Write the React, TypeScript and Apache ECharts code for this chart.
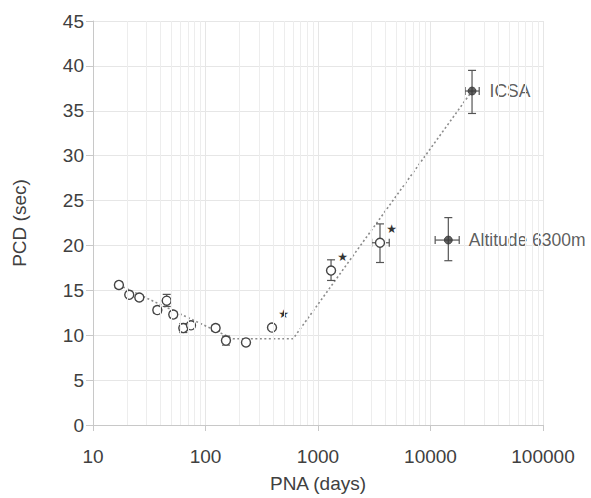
import React, { useEffect, useRef } from "react";
import * as echarts from "echarts";

// Open markers (PNA days, PCD sec) with vertical/horizontal error limits
const openX = [17, 21, 25.8, 37.3, 45.2, 51.7, 63.5, 74.3, 123, 152, 229, 390, 1306, 3557];
const openY = [15.6, 14.5, 14.2, 12.8, 13.85, 12.3, 10.8, 11.1, 10.8, 9.4, 9.2, 10.85, 17.2, 20.3];
const openYLow = [15.25, 14.2, 13.9, 12.45, 13.2, 11.95, 10.3, 10.8, 10.45, 8.9, 8.85, 10.85, 16.1, 18.1];
const openYHigh = [15.95, 14.8, 14.5, 13.15, 14.55, 12.65, 11.3, 11.4, 11.15, 9.9, 9.55, 10.85, 18.4, 22.4];
const openXLow = [17, 21, 25.8, 37.3, 45.2, 51.7, 63.5, 74.3, 123, 152, 229, 390, 1240, 3000];
const openXHigh = [17, 21, 25.8, 37.3, 45.2, 51.7, 63.5, 74.3, 123, 152, 229, 390, 1370, 4300];
const starred = [390, 1306, 3557];

// Filled markers
const filledNames = ["ICSA", "Altitude 6300m"];
const filledX = [23400, 14400];
const filledY = [37.2, 20.6];
const filledYLow = [34.7, 18.3];
const filledYHigh = [39.5, 23.1];
const filledXLow = [20300, 11000];
const filledXHigh = [27100, 18000];

// Dotted trend line
const trendX = [17, 175, 600, 23400];
const trendY = [15.6, 9.6, 9.6, 37.2];

const decades = [10, 100, 1000, 10000, 100000];

const FONT = "'Liberation Sans', Arial, sans-serif";
const TXT = "#404040";

export default function App() {
  const ref = useRef<HTMLDivElement>(null);
  useEffect(() => {
    if (!ref.current) return;
    const chart = echarts.init(ref.current, undefined, { renderer: "svg" });

    const minorTicks: number[] = [];
    for (let d = 0; d < decades.length - 1; d++) {
      for (let k = 2; k <= 9; k++) minorTicks.push(decades[d] * k);
    }

    const errData = [
      ...openX.map((x, i) => [x, openY[i], openYLow[i], openYHigh[i], openXLow[i], openXHigh[i]]),
      ...filledX.map((x, i) => [x, filledY[i], filledYLow[i], filledYHigh[i], filledXLow[i], filledXHigh[i]]),
    ];

    const CAP = 4;
    const lineStyle = { stroke: "#555", lineWidth: 1.2 };

    chart.setOption({
      animation: false,
      grid: { left: 93, right: 48, top: 21, bottom: 70.5, containLabel: false },
      xAxis: {
        type: "log",
        logBase: 10,
        min: 10,
        max: 100000,
        name: "PNA (days)",
        nameLocation: "middle",
        nameGap: 49,
        nameTextStyle: { fontFamily: FONT, fontSize: 19, color: TXT },
        axisLine: { show: true, lineStyle: { color: "#c8c8c8", width: 1 } },
        axisTick: { show: true, length: 6, lineStyle: { color: "#c8c8c8" } },
        axisLabel: {
          fontFamily: FONT,
          fontSize: 19,
          color: TXT,
          margin: 22,
          formatter: (v: number) => String(Math.round(v)),
        },
        splitLine: { show: true, lineStyle: { color: "#e6e6e6", width: 1 } },
      },
      yAxis: {
        type: "value",
        min: 0,
        max: 45,
        interval: 5,
        name: "PCD (sec)",
        nameLocation: "middle",
        nameGap: 64,
        nameTextStyle: { fontFamily: FONT, fontSize: 19, color: TXT },
        axisLine: { show: true, lineStyle: { color: "#c8c8c8", width: 1 } },
        axisTick: { show: true, length: 7, lineStyle: { color: "#c8c8c8" } },
        axisLabel: { fontFamily: FONT, fontSize: 19, color: TXT, margin: 9 },
        splitLine: { show: true, lineStyle: { color: "#e6e6e6", width: 1 } },
      },
      series: [
        {
          type: "scatter",
          data: [],
          silent: true,
          z: 0,
          markLine: {
            silent: true,
            symbol: ["none", "none"],
            label: { show: false },
            lineStyle: { color: "#ededed", type: "solid", width: 1 },
            emphasis: { disabled: true },
            data: minorTicks.map((v) => ({ xAxis: v })),
          },
        },
        {
          type: "line",
          data: trendX.map((x, i) => [x, trendY[i]]),
          symbol: "none",
          z: 2,
          lineStyle: { color: "#8c8c8c", width: 1.6, type: [2, 2.5] },
          silent: true,
        },
        {
          type: "custom",
          z: 3,
          silent: true,
          data: errData,
          encode: { x: 0, y: 1 },
          renderItem: (params: any, api: any) => {
            const x = api.value(0);
            const y = api.value(1);
            const yl = api.value(2);
            const yh = api.value(3);
            const xl = api.value(4);
            const xh = api.value(5);
            const c = api.coord([x, y]);
            const pl = api.coord([x, yl]);
            const ph = api.coord([x, yh]);
            const ql = api.coord([xl, y]);
            const qh = api.coord([xh, y]);
            const children: any[] = [];
            if (yh > yl) {
              children.push(
                { type: "line", shape: { x1: c[0], y1: pl[1], x2: c[0], y2: ph[1] }, style: lineStyle },
                { type: "line", shape: { x1: c[0] - CAP, y1: pl[1], x2: c[0] + CAP, y2: pl[1] }, style: lineStyle },
                { type: "line", shape: { x1: c[0] - CAP, y1: ph[1], x2: c[0] + CAP, y2: ph[1] }, style: lineStyle }
              );
            }
            if (xh > xl) {
              children.push(
                { type: "line", shape: { x1: ql[0], y1: c[1], x2: qh[0], y2: c[1] }, style: lineStyle },
                { type: "line", shape: { x1: ql[0], y1: c[1] - CAP, x2: ql[0], y2: c[1] + CAP }, style: lineStyle },
                { type: "line", shape: { x1: qh[0], y1: c[1] - CAP, x2: qh[0], y2: c[1] + CAP }, style: lineStyle }
              );
            }
            return { type: "group", children };
          },
        },
        {
          type: "scatter",
          z: 4,
          symbol: "circle",
          symbolSize: 9,
          itemStyle: { color: "#ffffff", borderColor: "#444", borderWidth: 1.4, opacity: 1 },
          data: openX.map((x, i) => ({
            value: [x, openY[i]],
            label: {
              show: starred.includes(x),
              formatter: "★",
              position: "right",
              distance: 1,
              offset: [0, -14],
              fontFamily: "'DejaVu Sans', sans-serif",
              fontSize: 12,
              color: "#333",
            },
          })),
        },
        {
          type: "scatter",
          z: 4,
          symbol: "circle",
          symbolSize: 8,
          itemStyle: { color: "#3a3a3a", borderColor: "#3a3a3a", borderWidth: 1 },
          data: filledX.map((x, i) => ({
            value: [x, filledY[i]],
            name: filledNames[i],
            label: {
              show: true,
              formatter: filledNames[i],
              position: "right",
              distance: i === 0 ? 13 : 16,
              fontFamily: FONT,
              fontSize: 17.5,
              color: "#333",
            },
          })),
        },
      ],
    });
    return () => chart.dispose();
  }, []);
  return <div ref={ref} style={{ width: 591, height: 498, position: "absolute", left: 0, top: 0 }} />;
}
